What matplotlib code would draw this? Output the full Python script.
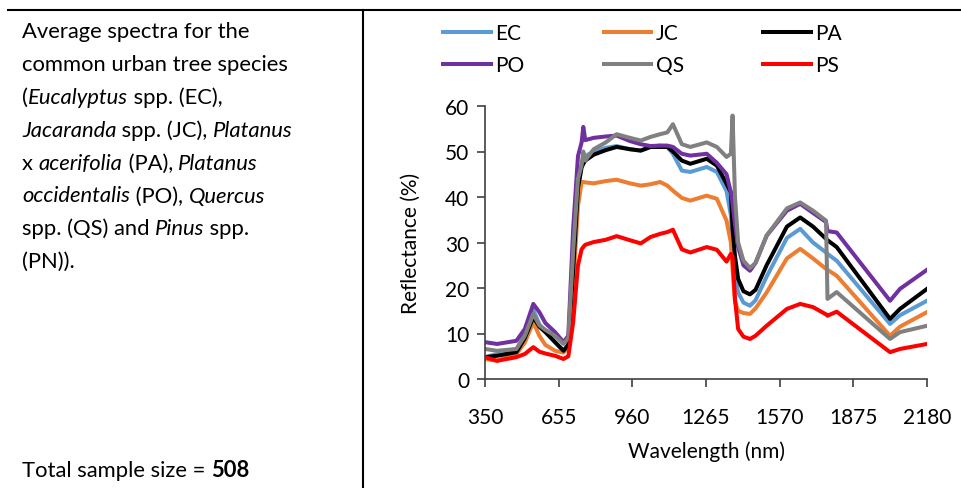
# Average reflectance spectra of common urban tree species,
# laid out like the table cell it came from (caption left, chart right).

import matplotlib
matplotlib.use("Agg")
import matplotlib.pyplot as plt
from matplotlib.lines import Line2D

plt.rcParams["font.family"] = ["Lato", "DejaVu Sans"]

# --- Data ---

wavelength = [350, 400, 480, 515, 550, 575, 600, 640, 675, 695, 715, 735, 750,
              757, 765, 800, 850, 895, 950, 995, 1035, 1075, 1105, 1128, 1165,
              1200, 1268, 1310, 1350, 1368, 1375, 1385, 1398, 1420, 1447, 1470,
              1516, 1600, 1655, 1708, 1762, 1768, 1806, 2027, 2068, 2180]

ec = [4.8, 5.5, 6.4, 10.0, 15.2, 12.0, 10.5, 8.1, 6.2, 7.5, 24.0, 42.0, 47.0,
      48.5, 49.0, 50.0, 50.8, 51.2, 50.5, 50.2, 51.0, 51.3, 51.0, 49.5, 45.8,
      45.5, 46.6, 45.5, 41.3, 36.0, 30.0, 23.0, 19.0, 16.8, 16.1, 17.3,
      22.5, 31.0, 33.0, 30.0, 27.8, 27.5, 26.0, 12.1, 14.0, 17.2]

jc = [4.4, 4.0, 5.5, 8.0, 12.5, 9.5, 7.5, 6.2, 5.8, 7.0, 20.0, 38.0, 43.3,
      43.3, 43.2, 43.0, 43.5, 43.8, 43.0, 42.5, 42.8, 43.3, 42.5, 41.4, 39.8,
      39.2, 40.3, 39.6, 34.8, 30.0, 24.0, 17.0, 15.0, 14.5, 14.3, 15.5,
      19.0, 26.5, 28.6, 26.5, 24.2, 24.0, 22.7, 9.5, 11.5, 14.7]

pa = [4.8, 5.1, 5.9, 9.0, 13.6, 11.5, 10.3, 8.1, 6.2, 7.5, 24.0, 42.0, 46.5,
      47.3, 48.0, 49.3, 50.3, 51.0, 50.5, 50.2, 51.0, 51.0, 51.0, 50.0, 48.0,
      47.3, 48.4, 46.9, 42.9, 41.0, 33.0, 27.0, 22.0, 19.3, 18.6, 19.6,
      25.0, 33.5, 35.5, 33.5, 30.8, 30.5, 29.0, 13.2, 15.4, 19.8]

po = [8.1, 7.7, 8.4, 11.0, 16.5, 14.7, 12.3, 10.3, 8.1, 9.5, 33.0, 49.0, 52.0,
      55.4, 52.5, 53.0, 53.3, 53.5, 52.3, 51.6, 51.2, 51.3, 51.3, 51.0, 49.5,
      49.1, 49.5, 47.5, 45.0, 41.0, 38.5, 34.0, 29.0, 25.0, 23.8, 25.5,
      31.5, 37.0, 38.5, 36.5, 34.5, 32.5, 32.2, 17.2, 19.8, 24.0]

qs = [6.6, 6.2, 6.6, 9.5, 14.3, 11.8, 10.8, 9.5, 7.7, 9.0, 28.0, 44.0, 47.0,
      50.0, 48.0, 50.5, 52.0, 53.8, 53.0, 52.4, 53.2, 53.8, 54.2, 56.0, 51.6,
      51.0, 52.0, 51.0, 48.8, 49.5, 57.9, 40.0, 30.0, 26.0, 24.4, 25.5,
      31.5, 37.5, 38.8, 37.0, 34.8, 17.6, 19.1, 8.8, 10.3, 11.7]

ps = [4.8, 4.0, 4.8, 5.5, 7.0, 6.0, 5.6, 5.1, 4.4, 5.0, 12.5, 25.0, 28.5,
      29.0, 29.5, 30.1, 30.6, 31.4, 30.5, 29.8, 31.2, 31.9, 32.3, 32.8, 28.5,
      27.8, 29.0, 28.4, 25.8, 27.5, 27.0, 17.6, 11.0, 9.3, 8.8, 9.5,
      11.7, 15.4, 16.5, 15.8, 14.2, 13.9, 14.8, 5.9, 6.6, 7.7]

series = {"EC": ec, "JC": jc, "PA": pa, "PO": po, "QS": qs, "PS": ps}
colors = {"EC": "#5b9bd5", "JC": "#ed7d31", "PA": "#000000",
          "PO": "#7030a0", "QS": "#808080", "PS": "#ff0000"}

x_ticks = [350, 655, 960, 1265, 1570, 1875, 2180]
y_ticks = [0, 10, 20, 30, 40, 50, 60]

# caption of the left cell: (text, style) pieces per line
caption = [
    [("Average spectra for the", "normal")],
    [("common urban tree species", "normal")],
    [("(", "normal"), ("Eucalyptus", "italic"), (" spp. (EC),", "normal")],
    [("Jacaranda", "italic"), (" spp. (JC), ", "normal"), ("Platanus", "italic")],
    [("x ", "normal"), ("acerifolia", "italic"), (" (PA), ", "normal"), ("Platanus", "italic")],
    [("occidentalis", "italic"), (" (PO), ", "normal"), ("Quercus", "italic")],
    [("spp. (QS) and ", "normal"), ("Pinus", "italic"), (" spp.", "normal")],
    [("(PN)).", "normal")],
]

W, H = 961, 489
FS_CAP = 15.8
FS = 15

fig = plt.figure(figsize=(W / 100, H / 100), dpi=100)
renderer = fig.canvas.get_renderer()


def fx(px):
    return px / W


def fy(py):
    return 1 - py / H


def seg_width(s, **kw):
    # width of a piece incl. surrounding spaces: measure "|s|" minus "||"
    t1 = fig.text(0, 0, "|" + s + "|", fontsize=FS_CAP, **kw)
    t2 = fig.text(0, 0, "||", fontsize=FS_CAP, **kw)
    w = t1.get_window_extent(renderer).width - t2.get_window_extent(renderer).width
    t1.remove()
    t2.remove()
    return w


def draw_line(pieces, x0, base):
    x = x0
    for s, style in pieces:
        kw = {}
        if style == "italic":
            kw = {"style": "italic"}
        elif style == "bold":
            kw = {"weight": "bold"}
        fig.text(fx(x), fy(base), s, fontsize=FS_CAP, va="baseline", ha="left", **kw)
        x += seg_width(s, **kw)


# --- table borders ---
fig.add_artist(Line2D([fx(8), fx(W)], [fy(11), fy(11)], color="black", lw=1.5))
fig.add_artist(Line2D([fx(363), fx(363)], [fy(11), fy(H)], color="black", lw=1.5))

# --- caption ---
for i, pieces in enumerate(caption):
    draw_line(pieces, 22, 38 + i * 32.9)
draw_line([("Total sample size = ", "normal"), ("508", "bold")], 22, 477)

# --- chart ---
ax = fig.add_axes([fx(485), fy(380), fx(927) - fx(485), fy(107) - fy(380)])
handles = {}
for name, vals in series.items():
    (ln,) = ax.plot(wavelength, vals, color=colors[name], lw=2.9,
                    solid_joinstyle="round", label=name)
    handles[name] = ln

ax.set_xlim(350, 2180)
ax.set_ylim(0, 60)
ax.set_xticks(x_ticks)
ax.set_yticks(y_ticks)
ax.tick_params(labelsize=FS, length=5.5, width=1.2, color="#404040")
ax.tick_params(axis="x", pad=15)
ax.tick_params(axis="y", pad=6)
for side in ["top", "right"]:
    ax.spines[side].set_visible(False)
for side in ["left", "bottom"]:
    ax.spines[side].set_color("#404040")
    ax.spines[side].set_linewidth(1.2)

ax.set_xlabel("Wavelength (nm)", fontsize=FS)
ax.set_ylabel("Reflectance (%)", fontsize=FS)
ax.xaxis.set_label_coords(0.5, -0.225)
ax.yaxis.set_label_coords(-0.145, 0.5)

# legend: ncol fills column-wise, so order EC, PO, JC, QS, PA, PS
order = ["EC", "PO", "JC", "QS", "PA", "PS"]
fig.legend([handles[k] for k in order], order, ncol=3, frameon=False,
           fontsize=FS, loc="upper left", bbox_to_anchor=(fx(443), fy(24)),
           borderpad=0, borderaxespad=0, handlelength=2.3, handletextpad=0.2,
           columnspacing=3.8, labelspacing=0.57)

fig.savefig("out.png", dpi=100)
